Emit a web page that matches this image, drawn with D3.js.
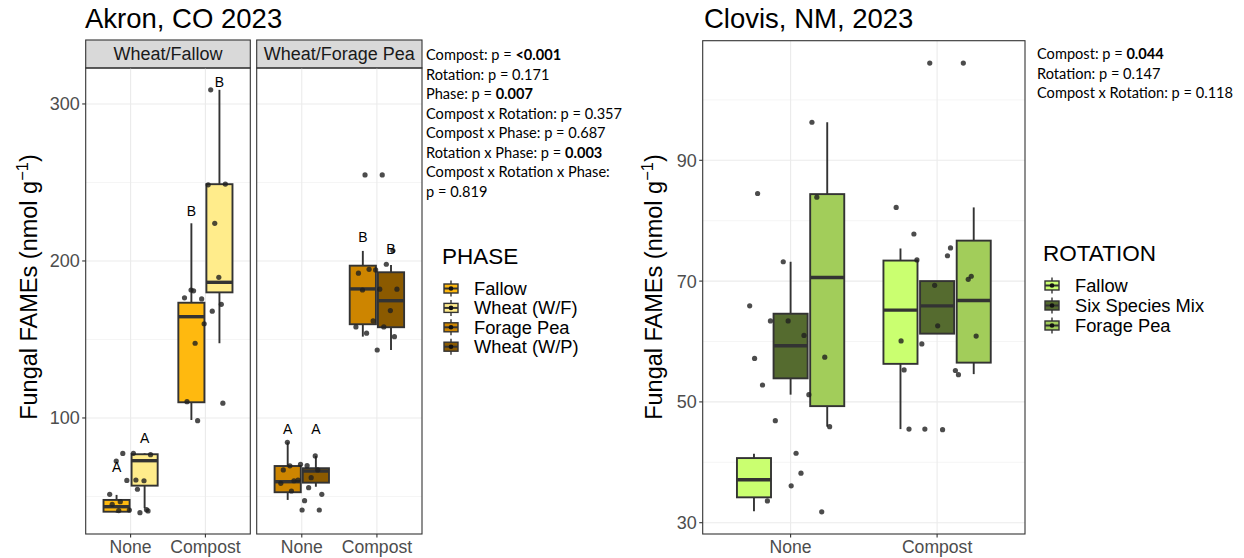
<!DOCTYPE html>
<html><head><meta charset="utf-8">
<script src="https://cdn.jsdelivr.net/npm/d3@7"></script>
<style>body{margin:0;background:#fff}svg{display:block}</style>
</head><body>
<script>
// ---------------- DATA ----------------
const akronTitle = "Akron, CO 2023";
const clovisTitle = "Clovis, NM, 2023";
const treatments = ["None", "Compost"];
const akronPanels = ["Wheat/Fallow", "Wheat/Forage Pea"];
const phases = ["Fallow", "Wheat (W/F)", "Forage Pea", "Wheat (W/P)"];
const phaseColors = ["#FFB90F", "#FFEC8B", "#CD8500", "#8B5A00"];
const panelPhases = [["Fallow", "Wheat (W/F)"], ["Forage Pea", "Wheat (W/P)"]];
const akronTicks = [100, 200, 300];
const akronMinor = [50, 150, 250];
// [panel, treatment, phase, whiskerLow, q1, median, q3, whiskerHigh]
const akronBoxes = [
  [0, "None", "Fallow", 39.7, 40.3, 43.5, 47.8, 51],
  [0, "None", "Wheat (W/F)", 42.5, 56.9, 72.8, 76.9, 77.5],
  [0, "Compost", "Fallow", 98.7, 110, 164.5, 173.4, 224],
  [0, "Compost", "Wheat (W/F)", 147.6, 180, 186.4, 248.9, 309],
  [1, "None", "Forage Pea", 47.8, 52.7, 59.4, 69.4, 84.5],
  [1, "None", "Wheat (W/P)", 56.2, 58.8, 66.2, 68, 75.8],
  [1, "Compost", "Forage Pea", 151.8, 159.7, 182.2, 197, 206.4],
  [1, "Compost", "Wheat (W/P)", 143.3, 157.8, 174.7, 192.8, 197.5]
];
// observations per panel and treatment
const akronWFNone = [60.5, 41, 41.6, 41.4, 45, 39.7, 77.4, 76.6, 77.5, 72.6, 60, 60.2, 51.4, 54.6, 46.7, 40.8];
const akronWFCompost = [309, 181, 172.4, 160, 110.4, 224, 98.3, 249, 248.5, 181.5, 189.6, 175.8, 176.5, 168, 147.6, 109.4];
const akronWFPNone = [69.6, 69.5, 66.9, 70.5, 66.9, 62, 60, 51.4, 47.3, 84.5, 75.8, 60.5, 58.4, 55.6, 53.5, 41.4, 41.4];
const akronWFPCompost = [254.8, 254.8, 206.6, 194.3, 192.2, 197.9, 194.7, 182, 182, 181.5, 168.4, 161.8, 158, 158, 154, 151.8, 143.3];
// letters: [panel, treatment, phase, label, value]
const akronLetters = [
  [0, "None", "Fallow", "A", 69], [0, "None", "Wheat (W/F)", "A", 87.5],
  [0, "Compost", "Fallow", "B", 232], [0, "Compost", "Wheat (W/F)", "B", 314],
  [1, "None", "Forage Pea", "A", 93], [1, "None", "Wheat (W/P)", "A", 93],
  [1, "Compost", "Forage Pea", "B", 215], [1, "Compost", "Wheat (W/P)", "B", 207.5]
];
const akronStats = [
  ["Compost: p = ", "<0.001", true], ["Rotation: p = ", "0.171", false],
  ["Phase: p = ", "0.007", true], ["Compost x Rotation: p = ", "0.357", false],
  ["Compost x Phase: p = ", "0.687", false], ["Rotation x Phase: p = ", "0.003", true],
  ["Compost x Rotation x Phase:", "", false], ["p = ", "0.819", false]
];

const rotations = ["Fallow", "Six Species Mix", "Forage Pea"];
const rotationColors = ["#CAFF70", "#556B2F", "#A2CD5A"];
const clovisTicks = [30, 50, 70, 90];
const clovisMinor = [40, 60, 80, 100];
// [treatment, rotation, whiskerLow, q1, median, q3, whiskerHigh]
const clovisBoxes = [
  ["None", "Fallow", 31.9, 34.2, 37.1, 40.7, 41.4],
  ["None", "Six Species Mix", 51.2, 53.9, 59.3, 64.6, 73.2],
  ["None", "Forage Pea", 45.9, 49.3, 70.6, 84.4, 96.3],
  ["Compost", "Fallow", 45.5, 56.3, 65.2, 73.4, 75.4],
  ["Compost", "Six Species Mix", 61.3, 61.3, 65.9, 70, 70],
  ["Compost", "Forage Pea", 54.6, 56.5, 66.8, 76.7, 82.2]
];
const clovisNone = [38.2, 33.6, 31.8, 63.4, 57.2, 51.2, 46.9, 45.9, 41.5, 52.8, 83.9, 73.2, 65.9, 61, 63.4, 57.4, 36.1, 84.5, 96.3];
const clovisCompost = [74.2, 77.8, 70.3, 69.3, 60.1, 55.2, 59.6, 60.9, 45.4, 45.5, 106.1, 106.1, 82.2, 75.5, 73.5, 70.8, 62.6, 55.3, 54.5, 45.5];
const clovisStats = [
  ["Compost: p = ", "0.044", true], ["Rotation: p = ", "0.147", false],
  ["Compost x Rotation: p = ", "0.118", false]
];

// ---------------- DRAW ----------------
const W = 1244, H = 558;
const svg = d3.select("body").append("svg").attr("width", W).attr("height", H);
const FONT = "'Liberation Sans', Arial, sans-serif";
const SFONT = "Lato, 'Open Sans', sans-serif";
const DARK = "#333333";

// low-discrepancy jitter fraction in [-1,1]
const jit = i => (((i + 1) * 0.6180339887) % 1) * 2 - 1;

function drawPanel(g, x0, x1, y0, y1, yScale, ticks, minor, groups, colorOf, boxes, pointsByTreatment, letters, showYAxis) {
  const x = d3.scalePoint().domain(treatments).range([x0, x1]).padding(0.6);
  const step = x.step();
  const slot = 0.75 * step / groups.length;
  const bw = slot * 0.93;
  const gx = (t, grp) => x(t) + (groups.indexOf(grp) - (groups.length - 1) / 2) * slot;

  g.selectAll(".minor").data(minor.filter(v => yScale(v) > y0 && yScale(v) < y1)).join("line")
    .attr("x1", x0).attr("x2", x1).attr("y1", d => yScale(d)).attr("y2", d => yScale(d))
    .attr("stroke", "#F2F2F2").attr("stroke-width", 0.8);
  g.selectAll(".major").data(ticks).join("line")
    .attr("x1", x0).attr("x2", x1).attr("y1", d => yScale(d)).attr("y2", d => yScale(d))
    .attr("stroke", "#EBEBEB").attr("stroke-width", 1.1);
  g.selectAll(".vmajor").data(treatments).join("line")
    .attr("x1", d => x(d)).attr("x2", d => x(d)).attr("y1", y0).attr("y2", y1)
    .attr("stroke", "#EBEBEB").attr("stroke-width", 1.1);

  boxes.forEach(b => {
    const [t, grp, lo, q1, med, q3, hi] = b;
    const cx = gx(t, grp);
    const bg = g.append("g");
    bg.append("line").attr("x1", cx).attr("x2", cx).attr("y1", yScale(hi)).attr("y2", yScale(q3))
      .attr("stroke", DARK).attr("stroke-width", 1.9);
    bg.append("line").attr("x1", cx).attr("x2", cx).attr("y1", yScale(q1)).attr("y2", yScale(lo))
      .attr("stroke", DARK).attr("stroke-width", 1.9);
    bg.append("rect").attr("x", cx - bw / 2).attr("width", bw)
      .attr("y", yScale(q3)).attr("height", Math.max(1, yScale(q1) - yScale(q3)))
      .attr("fill", colorOf(grp)).attr("stroke", DARK).attr("stroke-width", 1.9);
    bg.append("line").attr("x1", cx - bw / 2).attr("x2", cx + bw / 2).attr("y1", yScale(med)).attr("y2", yScale(med))
      .attr("stroke", DARK).attr("stroke-width", 3.4);
  });

  treatments.forEach(t => {
    const vals = pointsByTreatment[t];
    g.selectAll(null).data(vals).join("circle")
      .attr("cx", (d, i) => x(t) + jit(i) * 0.3 * step)
      .attr("cy", d => yScale(d)).attr("r", 2.6)
      .attr("fill", "#1f1f1f").attr("fill-opacity", 0.8);
  });

  (letters || []).forEach(l => {
    g.append("text").attr("x", gx(l[0], l[1])).attr("y", yScale(l[3])).attr("dy", "0.36em")
      .attr("text-anchor", "middle").attr("font-family", FONT).attr("font-size", 14).attr("fill", "#000")
      .text(l[2]);
  });

  g.append("rect").attr("x", x0).attr("y", y0).attr("width", x1 - x0).attr("height", y1 - y0)
    .attr("fill", "none").attr("stroke", DARK).attr("stroke-width", 1.1);

  treatments.forEach(t => {
    g.append("line").attr("x1", x(t)).attr("x2", x(t)).attr("y1", y1).attr("y2", y1 + 3.5)
      .attr("stroke", DARK).attr("stroke-width", 1.1);
    g.append("text").attr("x", x(t)).attr("y", y1 + 18.5).attr("text-anchor", "middle")
      .attr("font-family", FONT).attr("font-size", 17.6).attr("fill", "#4D4D4D").text(t);
  });
  if (showYAxis) {
    ticks.forEach(v => {
      g.append("line").attr("x1", x0 - 3.5).attr("x2", x0).attr("y1", yScale(v)).attr("y2", yScale(v))
        .attr("stroke", DARK).attr("stroke-width", 1.1);
      g.append("text").attr("x", x0 - 6).attr("y", yScale(v)).attr("dy", "0.36em").attr("text-anchor", "end")
        .attr("font-family", FONT).attr("font-size", 18).attr("fill", "#4D4D4D").text(v);
    });
  }
}

function yTitle(xb, yc) {
  const t = svg.append("text").attr("transform", `translate(${xb},${yc}) rotate(-90)`)
    .attr("text-anchor", "middle").attr("font-family", FONT).attr("font-size", 23.5).attr("fill", "#000");
  t.append("tspan").text("Fungal FAMEs (nmol g");
  t.append("tspan").attr("dy", -9).attr("font-size", 16.5).text("\u22121");
  t.append("tspan").attr("dy", 9).text(")");
}

function stats(x, y, rows) {
  rows.forEach((r, i) => {
    const t = svg.append("text").attr("x", x).attr("y", y + i * 19.5).attr("dy", "0.36em")
      .attr("font-family", SFONT).attr("font-size", 14.6).attr("fill", "#000");
    t.append("tspan").text(r[0]);
    if (r[1]) t.append("tspan").attr("font-weight", r[2] ? "bold" : "normal").text(r[1]);
  });
}

function legend(x, y, title, labels, colors, sp) {
  svg.append("text").attr("x", x - 2).attr("y", y).attr("dy", "0.36em").attr("font-family", FONT)
    .attr("font-size", 22.5).attr("fill", "#000").text(title);
  labels.forEach((lab, i) => {
    const cy = y + 32.5 + i * sp;
    const kx = x + 7;
    svg.append("line").attr("x1", kx).attr("x2", kx).attr("y1", cy - 8).attr("y2", cy + 8)
      .attr("stroke", DARK).attr("stroke-width", 1.4);
    svg.append("rect").attr("x", kx - 7).attr("y", cy - 4.5).attr("width", 14).attr("height", 9)
      .attr("fill", colors[i]).attr("stroke", DARK).attr("stroke-width", 1.4);
    svg.append("line").attr("x1", kx - 7).attr("x2", kx + 7).attr("y1", cy).attr("y2", cy)
      .attr("stroke", DARK).attr("stroke-width", 2);
    svg.append("circle").attr("cx", kx).attr("cy", cy).attr("r", 2.3).attr("fill", "#111");
    svg.append("text").attr("x", x + 30).attr("y", cy).attr("dy", "0.36em").attr("font-family", FONT)
      .attr("font-size", 18.3).attr("fill", "#000").text(lab);
  });
}

// ---- Akron ----
svg.append("text").attr("x", 85).attr("y", 27.5).attr("font-family", FONT).attr("font-size", 27.5)
  .attr("fill", "#000").text(akronTitle);
const aTop = 68, aBot = 534, stripTop = 40;
const yA = d3.scaleLinear().domain([26.1, 322.9]).range([aBot, aTop]);
const aPanelX = [[85.7, 250.3], [256.7, 422]];
const akronPoints = [
  { None: akronWFNone, Compost: akronWFCompost },
  { None: akronWFPNone, Compost: akronWFPCompost }
];
akronPanels.forEach((p, pi) => {
  const [x0, x1] = aPanelX[pi];
  const g = svg.append("g");
  g.append("rect").attr("x", x0).attr("y", stripTop).attr("width", x1 - x0).attr("height", aTop - stripTop)
    .attr("fill", "#D9D9D9").attr("stroke", DARK).attr("stroke-width", 1.1);
  g.append("text").attr("x", (x0 + x1) / 2).attr("y", (stripTop + aTop) / 2).attr("dy", "0.36em")
    .attr("text-anchor", "middle").attr("font-family", FONT).attr("font-size", 18).attr("fill", "#1A1A1A").text(p);
  const bx = akronBoxes.filter(b => b[0] === pi).map(b => b.slice(1));
  const lt = akronLetters.filter(l => l[0] === pi).map(l => l.slice(1));
  drawPanel(g, x0, x1, aTop, aBot, yA, akronTicks, akronMinor, panelPhases[pi],
    grp => phaseColors[phases.indexOf(grp)], bx, akronPoints[pi], lt, pi === 0);
});
yTitle(37, 287);
stats(426, 55, akronStats);
legend(444, 256, "PHASE", phases, phaseColors, 19.4);

// ---- Clovis ----
svg.append("text").attr("x", 704).attr("y", 27.5).attr("font-family", FONT).attr("font-size", 27.5)
  .attr("fill", "#000").text(clovisTitle);
const cTop = 40.7, cBot = 534;
const yC = d3.scaleLinear().domain([28.13, 109.8]).range([cBot, cTop]);
const gc = svg.append("g");
drawPanel(gc, 702.7, 1025, cTop, cBot, yC, clovisTicks, clovisMinor, rotations,
  grp => rotationColors[rotations.indexOf(grp)], clovisBoxes, { None: clovisNone, Compost: clovisCompost }, [], true);
yTitle(662, 287);
stats(1037, 54, clovisStats);
legend(1045, 253, "ROTATION", rotations, rotationColors, 20);
</script>
</body></html>
